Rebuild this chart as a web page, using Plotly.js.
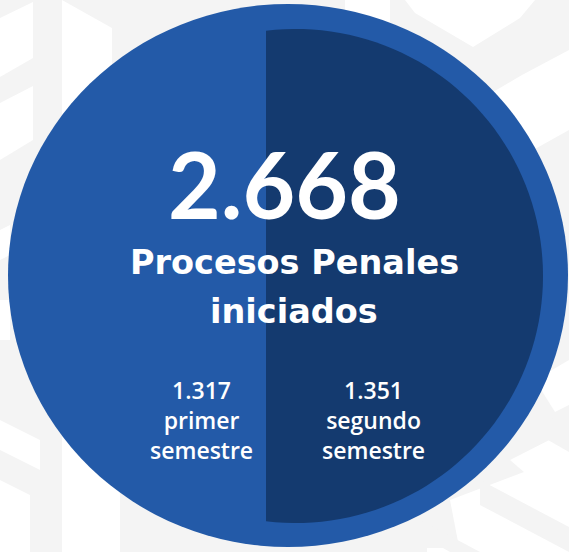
<!DOCTYPE html>
<html>
<head>
<meta charset="utf-8">
<script src="https://cdn.plot.ly/plotly-3.0.1.min.js"></script>
<style>html,body{margin:0;padding:0;background:#fff;}#chart{width:569px;height:552px;}</style>
</head>
<body>
<div id="chart"></div>
<script>
// ---- data ----
const semesterLabels = ['primer<br>semestre', 'segundo<br>semestre'];
const semesterValues = [1317, 1351];
const titleLines = ['Procesos Penales', 'iniciados'];

function fmt(n) { return n.toString().replace(/\B(?=(\d{3})+(?!\d))/g, '.'); }
const total = semesterValues.reduce((a, b) => a + b, 0);

const W = 569, H = 552;
const blueLight = '#235aa8';
const blueDark = '#143a6f';
const patternGray = '#f4f4f4';

// background pattern (decorative)
const whitePolys = [
  [[0,18],[33,2],[33,58],[0,77]],
  [[0,103],[33,86],[33,140],[0,160]],
  [[62,0],[62,200],[112,200],[112,28],[62,0]],
  [[345,0],[390,0],[390,25],[345,45]],
  [[405,0],[535,0],[520,18],[473,47],[415,13]],
  [[488,95],[522,75],[569,50],[569,130],[488,175]],
  [[0,230],[10,225],[10,255],[0,260]],
  [[0,300],[10,300],[10,340],[0,340]],
  [[0,420],[40,440],[40,470],[0,450]],
  [[62,430],[120,460],[120,552],[62,552]],
  [[0,480],[30,495],[30,552],[0,552]],
  [[535,380],[569,360],[569,405],[555,412]],
  [[510,460],[569,430],[569,470],[540,486]],
  [[450,500],[569,455],[569,552],[460,552]],
  [[427,548],[537,548],[537,552],[427,552]]
];
const grayBands = [
  [[527,405],[569,428],[569,452],[527,428]],
  [[480,480],[569,527],[569,552],[480,505]],
  [[420,520],[480,552],[450,552],[420,535]]
];
function polyPath(p) { return 'M' + p.map(q => q[0] + ',' + q[1]).join('L') + 'Z'; }

const shapes = [];
shapes.push({type:'rect', xref:'x', yref:'y', x0:0, x1:W, y0:0, y1:H, fillcolor:patternGray, line:{width:0}, layer:'below'});
whitePolys.forEach(p => shapes.push({type:'path', path:polyPath(p), fillcolor:'#ffffff', line:{width:0}, layer:'below'}));
grayBands.forEach(p => shapes.push({type:'path', path:polyPath(p), fillcolor:patternGray, line:{width:0}, layer:'below'}));

// outer disc
shapes.push({type:'circle', xref:'x', yref:'y', x0:8, x1:568, y0:4, y1:547, fillcolor:blueLight, line:{width:0}, layer:'below'});

// inner dark half (second semester)
const cx = 296, cy = 276, r = 247, xSplit = 266;
const a0 = Math.atan2(-Math.sqrt(r*r - (xSplit-cx)*(xSplit-cx)), xSplit-cx);
const a1 = -a0;
const pts = [];
const N = 90;
for (let i = 0; i <= N; i++) {
  const a = a0 + (a1 - a0) * i / N;
  pts.push([cx + r*Math.cos(a), cy + r*Math.sin(a)]);
}
shapes.push({type:'path', path: 'M' + pts.map(q => q[0].toFixed(2)+','+q[1].toFixed(2)).join('L') + 'Z', fillcolor:blueDark, line:{width:0}, layer:'below'});

const white = '#ffffff';
const annotations = [
  {x:284, y:183, text: fmt(total), font:{family:'Lato', size:91, color:white, weight:700}},
  {x:294, y:262, text: titleLines[0], font:{family:'DejaVu Sans', size:33.5, color:white, weight:700}},
  {x:294, y:311, text: titleLines[1], font:{family:'DejaVu Sans', size:33.5, color:white, weight:700}},
  {x:201, y:420, text: fmt(semesterValues[0]) + '<br>' + semesterLabels[0], font:{family:'Open Sans', size:23, color:white, weight:600}},
  {x:373, y:420, text: fmt(semesterValues[1]) + '<br>' + semesterLabels[1], font:{family:'Open Sans', size:23, color:white, weight:600}}
].map(a => Object.assign({xref:'x', yref:'y', showarrow:false, xanchor:'center', yanchor:'middle', align:'center'}, a));

const layout = {
  width: W, height: H,
  margin: {l:0, r:0, t:0, b:0, pad:0},
  paper_bgcolor: '#ffffff', plot_bgcolor: '#ffffff',
  xaxis: {range:[0, W], visible:false, fixedrange:true},
  yaxis: {range:[H, 0], visible:false, fixedrange:true},
  showlegend: false,
  shapes: shapes,
  annotations: annotations
};
Plotly.newPlot('chart', [{x:[], y:[], type:'scatter', mode:'markers', hoverinfo:'skip'}], layout, {displayModeBar:false, staticPlot:true});
</script>
</body>
</html>
